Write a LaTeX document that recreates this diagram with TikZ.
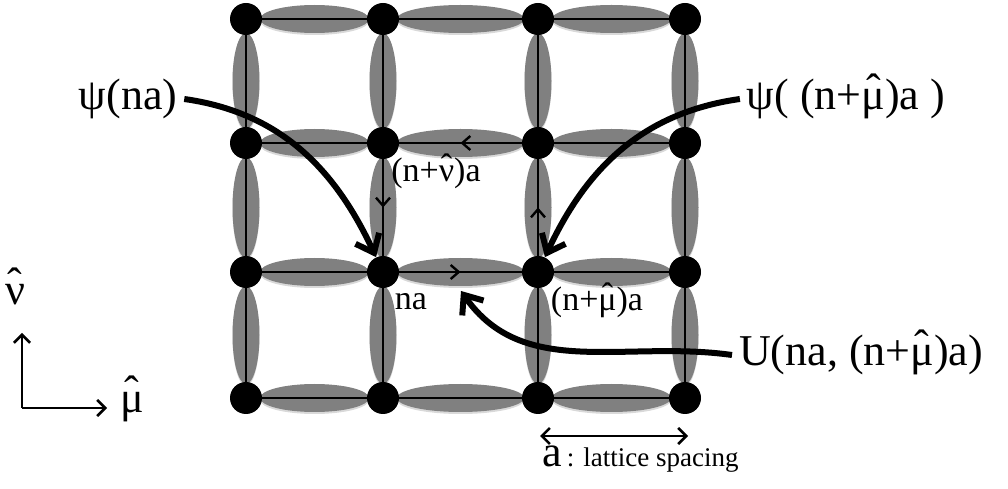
\documentclass[tikz,border=0pt]{standalone}
\usepackage{fontspec}
\setmainfont{Liberation Serif}
\usetikzlibrary{arrows.meta,decorations.markings,shadows}

\newcommand{\hatsym}[1]{\ooalign{#1\cr\hidewidth\raisebox{0.12em}{ˆ}\hidewidth\cr}}

\tikzset{
  site/.style={circle,fill=black,inner sep=0pt,minimum size=16pt},
  blob/.style={fill=black!50,drop shadow={shadow xshift=0pt,shadow yshift=-1pt,opacity=0.3}},
  link/.style={line width=1.2pt},
  flowmark/.style={postaction={decorate},decoration={markings,
      mark=at position 0.5 with {\arrow{Straight Barb[length=4pt,width=7pt]}}}},
  bigarrow/.style={line width=3pt,-{Straight Barb[length=8pt,width=13pt]}},
  axis/.style={line width=1.3pt,-{Straight Barb[length=4pt,width=8pt]}},
  biglabel/.style={font=\fontsize{22}{26}\selectfont},
  smalllabel/.style={font=\fontsize{17}{20}\selectfont,inner sep=0pt},
}

\begin{document}
\begin{tikzpicture}[x=0.5pt,y=0.5pt]
  \useasboundingbox (0,0) rectangle (1008,488);

  % Link blobs
  \foreach \xa/\xb in {246/383,383/538,538/685}
    \foreach \y in {90,216,345,469}
      \fill[blob] ({(\xa+\xb)/2},\y) ellipse [x radius={(\xb-\xa)/2-14}, y radius=14];
  \foreach \ya/\yb in {90/216,216/345,345/469}
    \foreach \x in {246,383,538,685}
      \fill[blob] (\x,{(\ya+\yb)/2}) ellipse [x radius=13.5, y radius={(\yb-\ya)/2-14}];

  % Sites
  \foreach \i/\x in {1/246,2/383,3/538,4/685}
    \foreach \j/\y in {1/90,2/216,3/345,4/469}
      \node[site] (n\i\j) at (\x,\y) {};

  % Lattice links
  \foreach \i/\k in {1/2,2/3,3/4}
    \foreach \j in {1,2,3,4}{
      \draw[link] (n\i\j) -- (n\k\j);
      \draw[link] (n\j\i) -- (n\j\k);
    }

  % Plaquette
  \draw[link,flowmark] (n33) -- (n23);
  \draw[link,flowmark] (n23) -- (n22);
  \draw[link,flowmark] (n32) -- (n33);
  \draw[link,flowmark] (n22) -- (n32);

  % Site labels
  \node[smalllabel] (lnu) at (436,315) {(n+\hatsym{ν})a};
  \node[smalllabel] (lna) at (411,186) {na};
  \node[smalllabel] (lmu) at (597,186) {(n+\hatsym{μ})a};

  % Field labels
  \node[biglabel] (psina) at (128,389) {ψ(na)};
  \node[biglabel] (psimu) at (846,389) {ψ( (n+\hatsym{μ})a )};
  \node[biglabel] (ulink) at (861,133) {U(na, (n+\hatsym{μ})a)};
  \coordinate (utip) at (461,197);

  \draw[bigarrow] (psina.east) to[out=-8,in=115] (n22);
  \draw[bigarrow] (psimu.west) to[out=188,in=65] (n32);
  \draw[bigarrow] (ulink.west) to[out=172,in=-55] (utip);

  % Axes
  \coordinate (origin) at (22,80);
  \coordinate (nuend) at (22,155);
  \coordinate (muend) at (107,80);
  \draw[axis] (origin) -- (nuend);
  \draw[axis] (origin) -- (muend);
  \node[biglabel] (nuhat) at (15,194) {\hatsym{ν}};
  \node[biglabel] (muhat) at (132,86) {\hatsym{μ}};

  % Lattice spacing
  \coordinate (sl) at (540,52);
  \coordinate (sr) at (688,52);
  \draw[axis,{Straight Barb[length=4pt,width=8pt]}-{Straight Barb[length=4pt,width=8pt]}] (sl) -- (sr);
  \node[anchor=base west,inner sep=0pt] (spacing) at (542,21)
    {{\fontsize{22}{26}\selectfont a} {\fontsize{13.5}{16}\selectfont : lattice spacing}};

\end{tikzpicture}
\end{document}
